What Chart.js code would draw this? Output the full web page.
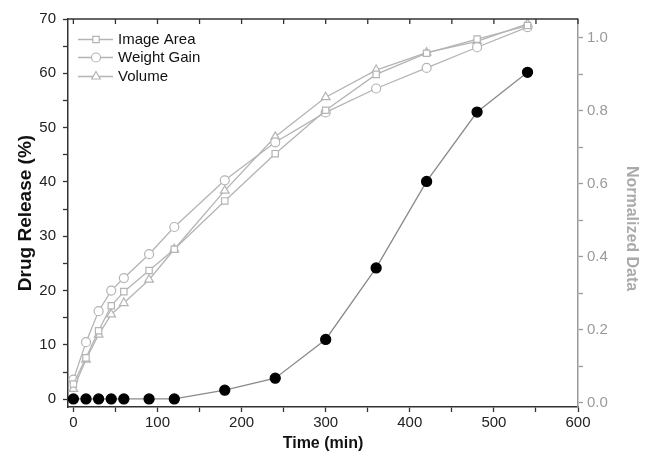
<!DOCTYPE html>
<html>
<head>
<meta charset="utf-8">
<script src="https://cdn.jsdelivr.net/npm/chart.js@4/dist/chart.umd.min.js"></script>
<style>
  html, body { margin: 0; padding: 0; background: #fff; }
  #wrap { width: 646px; height: 461px; }
</style>
</head>
<body>
<div id="wrap"><canvas id="myChart" width="646" height="461"></canvas></div>
<script>
// sampling times (min)
var times = [0, 15, 30, 45, 60, 90, 120, 180, 240, 300, 360, 420, 480, 540];

// drug release (%) measured three ways
var imageArea = [2.8, 7.6, 12.6, 17.2, 19.8, 23.7, 27.6, 36.5, 45.2, 53.2, 59.8, 63.7, 66.3, 68.8];
var weightGain = [3.6, 10.5, 16.2, 20.0, 22.3, 26.7, 31.7, 40.3, 47.3, 52.8, 57.2, 61.0, 64.8, 68.5];
var volume = [1.9, 7.3, 11.9, 15.6, 17.7, 22.0, 27.6, 38.4, 48.3, 55.6, 60.6, 63.8, 65.9, 69.1];

// normalized data (right axis)
var normalized = [0.01, 0.01, 0.01, 0.01, 0.01, 0.01, 0.01, 0.034, 0.067, 0.173, 0.369, 0.606, 0.796, 0.905];

var xTicks = [0, 50, 100, 150, 200, 250, 300, 350, 400, 450, 500, 550, 600];
var yTicks = [0, 5, 10, 15, 20, 25, 30, 35, 40, 45, 50, 55, 60, 65, 70];
var y2Ticks = [0, 0.1, 0.2, 0.3, 0.4, 0.5, 0.6, 0.7, 0.8, 0.9, 1.0];

var FONT = 'Arial, "Liberation Sans", sans-serif';
var GRAY = '#b4b4b4';
var AXGRAY = '#9a9a9a';

function pts(ys) {
    return times.map(function (t, i) { return { x: t, y: ys[i] }; });
}

function grayLine(label, ys, style) {
    return {
        label: label,
        data: pts(ys),
        yAxisID: 'y',
        borderColor: GRAY,
        borderWidth: 1.3,
        backgroundColor: '#fff',
        pointBackgroundColor: '#fff',
        pointBorderColor: GRAY,
        pointBorderWidth: 1.2,
        pointStyle: style,
        pointRadius: style === 'triangle' ? 5 : 4.5,
        tension: 0
    };
}

// legend drawn inside the plot, top left
var innerLegend = {
    id: 'innerLegend',
    afterDatasetsDraw: function (chart) {
        var ctx = chart.ctx;
        var area = chart.chartArea;
        var rows = [39.5, 57.5, 76.5];
        ctx.save();
        for (var i = 0; i < 3; i++) {
            var ds = chart.data.datasets[i];
            var y = rows[i];
            ctx.strokeStyle = GRAY;
            ctx.lineWidth = 1.3;
            ctx.beginPath();
            ctx.moveTo(area.left + 10, y);
            ctx.lineTo(area.left + 45, y);
            ctx.stroke();
            ctx.fillStyle = '#fff';
            ctx.strokeStyle = GRAY;
            ctx.lineWidth = 1.2;
            Chart.helpers.drawPoint(ctx, {
                pointStyle: ds.pointStyle,
                rotation: 0,
                radius: ds.pointRadius,
                borderWidth: 1.2
            }, area.left + 28, y);
            ctx.fillStyle = '#111';
            ctx.font = '15px ' + FONT;
            ctx.textAlign = 'left';
            ctx.textBaseline = 'middle';
            ctx.fillText(ds.label, area.left + 50, y);
        }
        ctx.restore();
    }
};

// top frame line with inward ticks
var topFrame = {
    id: 'topFrame',
    afterDraw: function (chart) {
        var ctx = chart.ctx;
        var area = chart.chartArea;
        var xs = chart.scales.x;
        ctx.save();
        ctx.strokeStyle = '#333';
        ctx.lineWidth = 1.5;
        ctx.beginPath();
        ctx.moveTo(area.left, area.top);
        ctx.lineTo(area.right, area.top);
        ctx.stroke();
        ctx.lineWidth = 1.3;
        xTicks.forEach(function (v) {
            var px = xs.getPixelForValue(v);
            ctx.beginPath();
            ctx.moveTo(px, area.top);
            ctx.lineTo(px, area.top + 5);
            ctx.stroke();
        });
        ctx.restore();
    }
};

var ctx = document.getElementById('myChart').getContext('2d');
var myChart = new Chart(ctx, {
    type: 'line',
    data: {
        datasets: [
            grayLine('Image Area', imageArea, 'rect'),
            grayLine('Weight Gain', weightGain, 'circle'),
            grayLine('Volume', volume, 'triangle'),
            {
                label: 'Normalized',
                data: pts(normalized),
                yAxisID: 'y2',
                borderColor: '#8a8a8a',
                borderWidth: 1.3,
                pointBackgroundColor: '#000',
                pointBorderColor: '#000',
                pointRadius: 5,
                tension: 0
            }
        ]
    },
    plugins: [innerLegend, topFrame],
    options: {
        responsive: false,
        animation: false,
        layout: { padding: { top: 19, left: 0, right: 0, bottom: 0 } },
        plugins: {
            legend: { display: false },
            tooltip: { enabled: false }
        },
        scales: {
            x: {
                type: 'linear',
                min: -6.4,
                max: 600,
                afterBuildTicks: function (scale) {
                    scale.ticks = xTicks.map(function (v) { return { value: v }; });
                },
                afterFit: function (scale) { scale.height = 54; },
                grid: { drawOnChartArea: false, drawTicks: true, tickLength: 5, tickColor: '#333', tickWidth: 1.3 },
                border: { display: true, color: '#333', width: 1.5 },
                ticks: {
                    autoSkip: false,
                    maxRotation: 0,
                    padding: 2,
                    color: '#222',
                    font: { family: FONT, size: 15 },
                    callback: function (v) { return v % 100 === 0 ? String(v) : ''; }
                },
                title: {
                    display: true,
                    text: 'Time (min)',
                    color: '#111',
                    font: { family: FONT, size: 16, weight: 'bold' },
                    padding: { top: 0, bottom: 8 }
                }
            },
            y: {
                type: 'linear',
                position: 'left',
                min: -1.44,
                max: 70,
                afterBuildTicks: function (scale) {
                    scale.ticks = yTicks.map(function (v) { return { value: v }; });
                },
                afterFit: function (scale) { scale.width = 68; },
                grid: { drawOnChartArea: false, drawTicks: true, tickLength: 5, tickColor: '#333', tickWidth: 1.3 },
                border: { display: true, color: '#333', width: 1.5 },
                ticks: {
                    autoSkip: false,
                    padding: 7,
                    color: '#222',
                    font: { family: FONT, size: 15 },
                    callback: function (v) { return v % 10 === 0 ? String(v) : ''; }
                },
                title: {
                    display: true,
                    text: 'Drug Release (%)',
                    color: '#111',
                    font: { family: FONT, size: 19, weight: 'bold' },
                    padding: { top: 14, bottom: 0 }
                }
            },
            y2: {
                type: 'linear',
                position: 'right',
                min: -0.012,
                max: 1.051,
                afterBuildTicks: function (scale) {
                    scale.ticks = y2Ticks.map(function (v) { return { value: v }; });
                },
                afterFit: function (scale) { scale.width = 68; },
                grid: { drawOnChartArea: false, drawTicks: true, tickLength: 5, tickColor: AXGRAY, tickWidth: 1.3 },
                border: { display: true, color: AXGRAY, width: 1.5 },
                ticks: {
                    autoSkip: false,
                    padding: 4,
                    color: AXGRAY,
                    font: { family: FONT, size: 15 },
                    callback: function (v) {
                        var k = Math.round(v * 10);
                        return k % 2 === 0 ? (k / 10).toFixed(1) : '';
                    }
                },
                title: {
                    display: true,
                    text: '       Normalized Data',
                    color: '#aaaaaa',
                    font: { family: FONT, size: 16, weight: 'bold' },
                    padding: { top: 5, bottom: 0 }
                }
            }
        }
    }
});
</script>
</body>
</html>
